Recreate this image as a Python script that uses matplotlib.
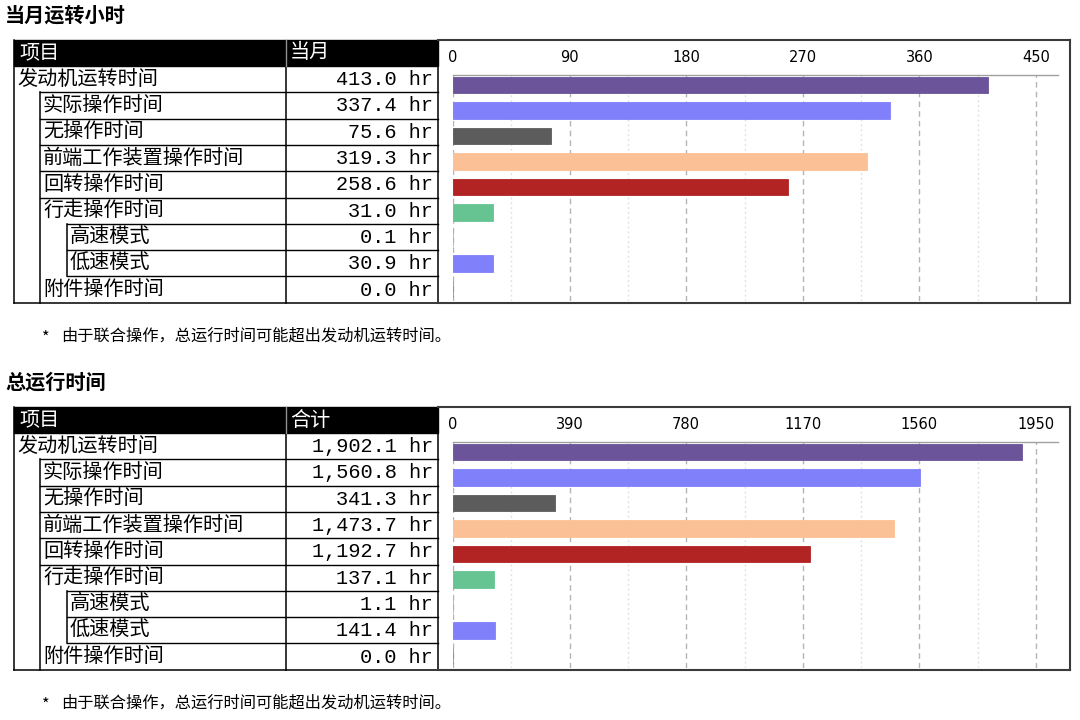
import matplotlib
matplotlib.use('Agg')
import matplotlib.pyplot as plt
from matplotlib import font_manager
from matplotlib.ticker import MultipleLocator

plt.rcParams['font.family'] = ['Noto Sans CJK SC', 'DejaVu Sans']

# ---- data ----
items = ['发动机运转时间', '实际操作时间', '无操作时间', '前端工作装置操作时间',
         '回转操作时间', '行走操作时间', '高速模式', '低速模式', '附件操作时间']
indent = [0, 1, 1, 1, 1, 1, 2, 2, 1]
month_hr = [413.0, 337.4, 75.6, 319.3, 258.6, 31.0, 0.1, 30.9, 0.0]
total_hr = [1902.1, 1560.8, 341.3, 1473.7, 1192.7, 137.1, 1.1, 141.4, 0.0]
bar_colors = ['#6b5499', '#8080fa', '#5c5c5c', '#fcc096', '#b22424',
              '#66c492', '#d0a0a8', '#8080fa', '#8080fa']
month_ticks = [0, 90, 180, 270, 360, 450]
total_ticks = [0, 390, 780, 1170, 1560, 1950]
note_mark = '*'
note = '由于联合操作，总运行时间可能超出发动机运转时间。'


def pick(fams):
    for f in fams:
        try:
            font_manager.findfont(f, fallback_to_default=False)
            return f
        except Exception:
            pass
    return 'DejaVu Sans'


narrow = pick(['Liberation Sans Narrow', 'DejaVu Sans'])
mono = pick(['Liberation Mono', 'DejaVu Sans Mono'])

W, H = 1080, 720
fig = plt.figure(figsize=(10.8, 7.2), dpi=100)
bg = fig.add_axes([0, 0, 1, 1])
bg.set_xlim(0, W)
bg.set_ylim(H, 0)
bg.axis('off')

x0, x_ind1, x_ind2, x_div, x_tr, x_box = 14, 40, 67, 286, 438, 1070
bar_l, bar_r, tick_last_px = 453, 1058, 1036


def section(off, title, head, values, ticks):
    top = 40 + off
    hrow = 26.3
    rows = [top + 26 + i * hrow for i in range(10)]
    bottom = rows[-1]
    bg.text(5, 15 + off, title, fontsize=14.5, fontweight='bold', va='center', ha='left')
    # header
    bg.add_patch(plt.Rectangle((x0, top), x_tr - x0, 26, color='black', zorder=2))
    bg.plot([x_div, x_div], [top, top + 26], color='#909090', lw=1, zorder=3)
    bg.text(x0 + 5, top + 13, '项目', color='white', fontsize=14.5, va='center', zorder=4)
    bg.text(x_div + 4, top + 13, head, color='white', fontsize=14.5, va='center', zorder=4)
    # rows
    xs = [x0, x_ind1, x_ind2]
    for i, (name, lv, v) in enumerate(zip(items, indent, values)):
        yc = (rows[i] + rows[i + 1]) / 2
        bg.text(xs[lv] + 3, yc, name, fontsize=14.5, va='center', ha='left')
        bg.text(433, yc + 0.5, f'{v:,.1f} hr', fontsize=14.6, family=mono,
                va='center', ha='right')
        if i < 8:
            lx = xs[max(lv, indent[i + 1])]
            bg.plot([lx, x_tr], [rows[i + 1]] * 2, color='black', lw=1.0)
    lc = dict(color='black', lw=1.1)
    bg.plot([x0, x0], [top, bottom], **lc)
    bg.plot([x_ind1, x_ind1], [rows[1], bottom], **lc)
    bg.plot([x_ind2, x_ind2], [rows[6], rows[8]], **lc)
    bg.plot([x_div, x_div], [top + 26, bottom], **lc)
    bg.plot([x_tr, x_tr], [top, bottom], **lc)
    bg.plot([x0, x_tr], [bottom, bottom], **lc)
    # chart frame
    fc = dict(color='#3a3a3a', lw=1.5)
    bg.plot([x_tr, x_box], [top, top], **fc)
    bg.plot([x_box, x_box], [top, bottom], **fc)
    bg.plot([x_tr, x_box], [bottom, bottom], **fc)
    bg.text(42, 338 + off, note_mark, fontsize=11.7, va='center', ha='left')
    bg.text(61, 336 + off, note, fontsize=11.7, va='center', ha='left')

    # bar chart
    a_top, a_bot = 75 + off, 301 + off
    ax = fig.add_axes([bar_l / W, 1 - a_bot / H, (bar_r - bar_l) / W, (a_bot - a_top) / H])
    step = ticks[1]
    xmax = ticks[-1] * (bar_r - bar_l) / (tick_last_px - bar_l)
    ax.set_xlim(0, xmax)
    ax.set_ylim(8.47, -0.39)
    ax.barh(range(len(values)), values, height=0.65, color=bar_colors,
            edgecolor=bar_colors, lw=0.6, zorder=3)
    ax.xaxis.set_minor_locator(MultipleLocator(step / 2))
    ax.set_xticks(ticks)
    ax.xaxis.tick_top()
    ax.tick_params(axis='x', which='both', length=0, pad=7, labelsize=10.5)
    for lb in ax.get_xticklabels():
        lb.set_family(narrow)
    ax.set_yticks([])
    ax.grid(True, which='major', axis='x', color='#b4b4b4', ls=(0, (4, 3)), lw=1)
    ax.grid(True, which='minor', axis='x', color='#e2e2e2', ls=(0, (1.5, 2)), lw=1)
    for s in ['left', 'right', 'bottom']:
        ax.spines[s].set_visible(False)
    ax.spines['top'].set_color('#a0a0a0')
    ax.spines['top'].set_linewidth(1)
    ax.patch.set_alpha(0)


section(0, '当月运转小时', '当月', month_hr, month_ticks)
section(367, '总运行时间', '合计', total_hr, total_ticks)

fig.savefig('out.png', dpi=100)
